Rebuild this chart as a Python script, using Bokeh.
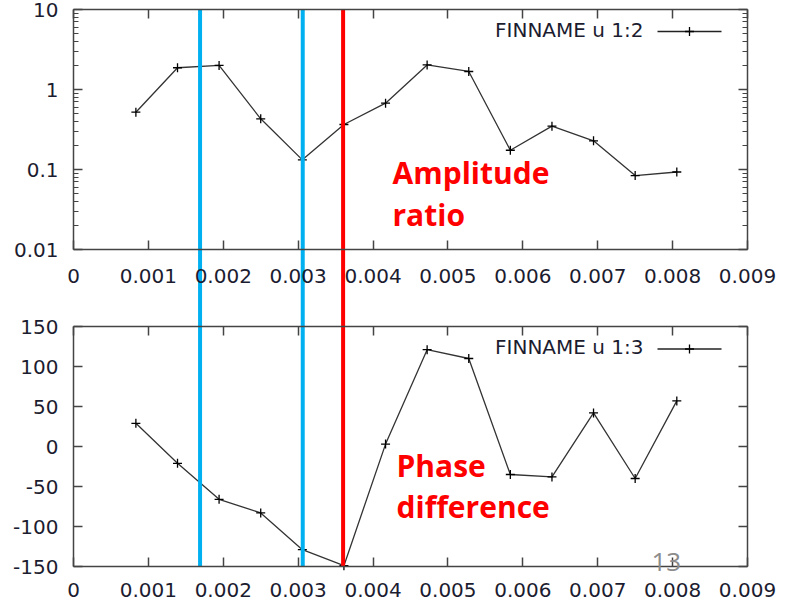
from bokeh.plotting import figure
from bokeh.models import (Range1d, LogScale, LinearAxis, LogAxis, FixedTicker,
                          CustomJSTickFormatter, Label)
from bokeh.embed import file_html
from bokeh.resources import INLINE

# ---------------- data ----------------
freq = [0.000833, 0.001389, 0.001944, 0.0025, 0.003056, 0.003611, 0.004167,
        0.004722, 0.005278, 0.005833, 0.006389, 0.006944, 0.0075, 0.008056]
amp_ratio = [0.52, 1.87, 2.0, 0.43, 0.132, 0.365, 0.675,
             2.03, 1.68, 0.174, 0.348, 0.228, 0.084, 0.093]
phase_diff = [29, -21, -66, -83, -129, -149, 3,
              121, 110, -35, -38, 42, -40, 57]

x_ticks = [0, 0.001, 0.002, 0.003, 0.004, 0.005, 0.006, 0.007, 0.008, 0.009]
amp_ticks = [0.01, 0.1, 1, 10]
amp_minor = [m * d for d in (0.01, 0.1, 1) for m in range(2, 10)]
phase_ticks = [-150, -100, -50, 0, 50, 100, 150]

blue_marks = [0.00169, 0.003061]
red_marks = [0.0036]

legend_top = "FINNAME u 1:2"
legend_bottom = "FINNAME u 1:3"
note_top = ["Amplitude", "ratio"]
note_bottom = ["Phase", "difference"]
page_no = "13"

# ---------------- layout (pixels) ----------------
W, H = 789, 613
L, R = 73, 747            # left / right edge of both panels
AMP_TOP, AMP_BOT = 9, 249  # top panel (10 ... 0.01)
PH_TOP, PH_BOT = 326, 566  # bottom panel (150 ... -150)
decade_px = (AMP_BOT - AMP_TOP) / 3.0
phase_per_px = 300.0 / (PH_BOT - PH_TOP)
x_per_px = 0.009 / (R - L)
LBL_DY = 11  # correction for label baseline placement

FRAME = "#444444"
TXT = "#1c1c30"
FONT = "DejaVu Sans"

# The frame covers the whole canvas; panels are placed through extra ranges.
p = figure(width=W, height=H, output_backend="svg", toolbar_location=None,
           x_range=Range1d(-L * x_per_px, 0.009 + (W - R) * x_per_px),
           y_range=Range1d(H, 0),
           x_axis_type=None, y_axis_type=None,
           min_border_left=0, min_border_right=0,
           min_border_top=0, min_border_bottom=0)
p.outline_line_color = None
p.background_fill_color = "white"
p.border_fill_color = "white"

p.extra_x_ranges = {"px": Range1d(0, W)}
p.extra_y_ranges = {
    "amp": Range1d(10 ** (1 - (H - AMP_TOP) / decade_px),
                   10 ** (1 + AMP_TOP / decade_px)),
    "phase": Range1d(-150 - (H - PH_BOT) * phase_per_px,
                     150 + PH_TOP * phase_per_px),
}
p.extra_y_scales = {"amp": LogScale()}

x_fmt = CustomJSTickFormatter(code="return tick == 0 ? '0' : tick.toFixed(3);")
y_fmt = CustomJSTickFormatter(code="return String(tick);")
blank = CustomJSTickFormatter(code="return '';")


def style(ax, standoff):
    ax.axis_line_color = FRAME
    ax.axis_line_width = 1.5
    ax.major_tick_line_color = FRAME
    ax.major_tick_line_width = 1.5
    ax.minor_tick_line_color = FRAME
    ax.minor_tick_line_width = 1.2
    ax.major_tick_in = 9
    ax.major_tick_out = 0
    ax.minor_tick_out = 0
    ax.major_label_text_font = FONT
    ax.major_label_text_font_size = "20px"
    ax.major_label_text_color = TXT
    ax.major_label_standoff = standoff


def panel(yname, ylo, yhi, yticks, yminor, AxisCls, xstand):
    bx = LinearAxis(y_range_name=yname, fixed_location=ylo, bounds=(0, 0.009),
                    ticker=FixedTicker(ticks=x_ticks), formatter=x_fmt)
    style(bx, xstand)
    bx.minor_tick_in = 0
    p.add_layout(bx, "below")
    tx = LinearAxis(y_range_name=yname, fixed_location=yhi, bounds=(0, 0.009),
                    ticker=FixedTicker(ticks=x_ticks), formatter=blank)
    style(tx, 0)
    tx.minor_tick_in = 0
    p.add_layout(tx, "above")
    ly = AxisCls(y_range_name=yname, fixed_location=0, bounds=(ylo, yhi),
                 ticker=FixedTicker(ticks=yticks, minor_ticks=yminor), formatter=y_fmt)
    style(ly, 15)
    ly.minor_tick_in = 5
    p.add_layout(ly, "left")
    ry = AxisCls(y_range_name=yname, fixed_location=0.009, bounds=(ylo, yhi),
                 ticker=FixedTicker(ticks=yticks, minor_ticks=yminor), formatter=blank)
    style(ry, 0)
    ry.minor_tick_in = 5
    p.add_layout(ry, "right")


panel("amp", 0.01, 10, amp_ticks, amp_minor, LogAxis, 19)
panel("phase", -150, 150, phase_ticks, [], LinearAxis, 16)

# ---------------- data series ----------------
for yname, ys in (("amp", amp_ratio), ("phase", phase_diff)):
    p.line(freq, ys, y_range_name=yname, line_color="#333333", line_width=1.3)
    p.scatter(freq, ys, y_range_name=yname, marker="cross", size=9,
              line_color="black", line_width=1.3)

# ---------------- legends (label then sample, gnuplot style) ----------------
for text, base, mid in ((legend_top, 40, 31), (legend_bottom, 357, 348.5)):
    p.add_layout(Label(x=643, y=base - LBL_DY, x_range_name="px", text=text,
                       text_align="right", text_baseline="alphabetic",
                       text_font=FONT, text_font_size="20px", text_color=TXT))
    p.line(x=[657, 721], y=[mid, mid], x_range_name="px",
           line_color="#222222", line_width=1.4)
    p.scatter(x=[689], y=[mid], x_range_name="px", marker="cross", size=9,
              line_color="black", line_width=1.3)

# ---------------- vertical markers (from top of upper panel to bottom of lower) ----------------
p.segment(x0=blue_marks, y0=[AMP_TOP] * len(blue_marks),
          x1=blue_marks, y1=[PH_BOT] * len(blue_marks),
          line_color="#00B0F0", line_width=4)
p.segment(x0=red_marks, y0=[AMP_TOP] * len(red_marks),
          x1=red_marks, y1=[PH_BOT] * len(red_marks),
          line_color="#FF0000", line_width=4)

# ---------------- red notes and page number ----------------
for txt, xx, yy in ((note_top[0], 392, 182.5), (note_top[1], 392, 225),
                    (note_bottom[0], 396, 475.5), (note_bottom[1], 396, 516.5)):
    p.add_layout(Label(x=xx, y=yy - LBL_DY, x_range_name="px", text=txt,
                       text_align="left", text_baseline="alphabetic",
                       text_font="Open Sans", text_font_style="bold",
                       text_font_size="30px", text_color="#FF0000"))

p.add_layout(Label(x=651, y=572.5 - LBL_DY, x_range_name="px", text=page_no,
                   text_align="left", text_baseline="alphabetic",
                   text_font="Open Sans", text_font_size="26px", text_color="#8c8c8c"))

open("out.html", "w").write(file_html(p, INLINE))
